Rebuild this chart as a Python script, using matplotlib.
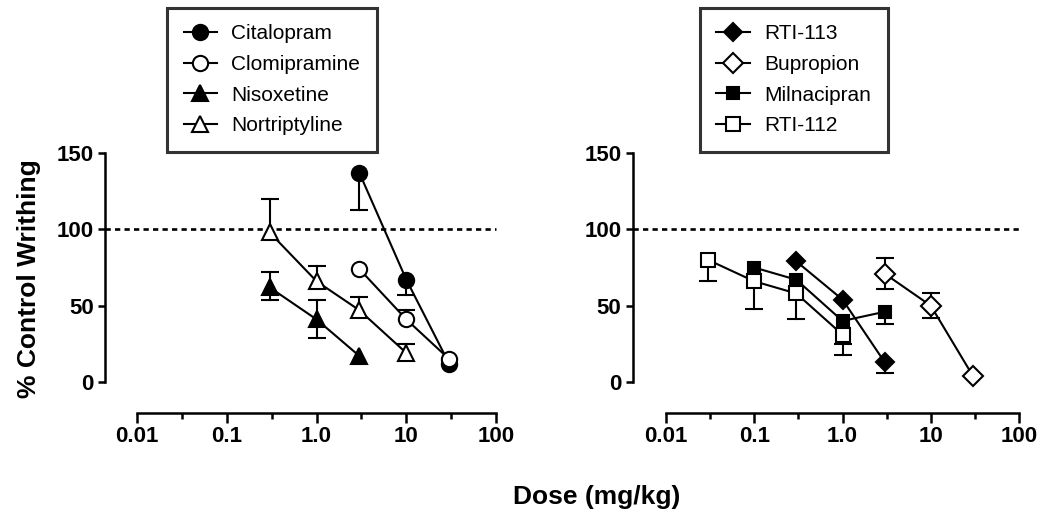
import numpy as np
import matplotlib.pyplot as plt

plt.rcParams['font.family'] = ['Liberation Sans', 'DejaVu Sans']

# left panel: dose (mg/kg), % control writhing, lower / upper error
CIT_DOSE = [3, 10, 30]
CIT_MEAN = [137, 67, 12]
CIT_LO = [24, 10, 0]
CIT_HI = [0, 0, 0]

CLO_DOSE = [3, 10, 30]
CLO_MEAN = [74, 41, 15]
CLO_LO = [0, 0, 0]
CLO_HI = [0, 6, 0]

NIS_DOSE = [0.3, 1, 3]
NIS_MEAN = [62, 41, 17]
NIS_LO = [8, 12, 0]
NIS_HI = [10, 13, 0]

NOR_DOSE = [0.3, 1, 3, 10]
NOR_MEAN = [98, 66, 47, 19]
NOR_LO = [0, 0, 0, 0]
NOR_HI = [22, 10, 9, 6]

# right panel
R113_DOSE = [0.3, 1, 3]
R113_MEAN = [79, 54, 13]
R113_LO = [0, 0, 7]
R113_HI = [0, 0, 0]

BUP_DOSE = [3, 10, 30]
BUP_MEAN = [71, 50, 4]
BUP_LO = [10, 8, 0]
BUP_HI = [10, 8, 0]

MIL_DOSE = [0.1, 0.3, 1, 3]
MIL_MEAN = [75, 67, 40, 46]
MIL_LO = [0, 0, 15, 8]
MIL_HI = [0, 0, 0, 0]

R112_DOSE = [0.03, 0.1, 0.3, 1]
R112_MEAN = [80, 66, 58, 31]
R112_LO = [14, 18, 17, 13]
R112_HI = [0, 0, 0, 0]

X_TICKS = [0.01, 0.1, 1, 10, 100]
X_TICKLABELS = ['0.01', '0.1', '1.0', '10', '100']
Y_TICKS = [0, 50, 100, 150]

LW = 1.5
MS = 11
FIG_W, FIG_H, DPI = 10.5, 5.19, 100


def draw_series(ax, dose, mean, lo, hi, marker, filled, label, ms=MS):
    # one-sided error bars, drawn as stem + cap
    for x, y, l, h in zip(dose, mean, lo, hi):
        for d in (-l, h):
            if d != 0:
                ax.plot([x, x], [y, y + d], color='black', lw=LW, zorder=2, clip_on=False)
                ax.plot([x], [y + d], marker='_', ms=13, mew=LW, color='black',
                        zorder=2, clip_on=False)
    face = 'black' if filled else 'white'
    line, = ax.plot(dose, mean, color='black', lw=LW, marker=marker, ms=ms,
                    mfc=face, mec='black', mew=LW, label=label, zorder=3, clip_on=False)
    return line


def style_axis(ax, left_offset):
    ax.set_xscale('log')
    ax.set_xlim(0.01, 100)
    ax.set_ylim(0, 150)
    ax.spines['top'].set_visible(False)
    ax.spines['right'].set_visible(False)
    ax.spines['left'].set_position(('outward', left_offset))
    ax.spines['bottom'].set_position(('outward', 22))
    for s in ('left', 'bottom'):
        ax.spines[s].set_linewidth(1.8)
    ax.set_xticks(X_TICKS)
    ax.set_xticklabels(X_TICKLABELS)
    ax.set_xticks([10 ** (k + 0.5) for k in range(-2, 2)], minor=True)
    ax.set_yticks(Y_TICKS)
    ax.tick_params(axis='both', which='major', width=1.8, labelsize=16, pad=3)
    ax.tick_params(axis='x', which='major', length=7)
    ax.tick_params(axis='x', which='minor', length=4.5, width=1.8, labelbottom=False)
    ax.tick_params(axis='y', length=5)
    for lab in ax.get_xticklabels() + ax.get_yticklabels():
        lab.set_fontweight('bold')
    # dotted control line at 100 %, starting at the y axis
    offset_px = left_offset / 72 * DPI
    width_px = ax.get_position().width * FIG_W * DPI
    ax.axhline(100, xmin=-offset_px / width_px, xmax=1.0, color='black', lw=1.9,
               ls=(0, (2.0, 1.6)), clip_on=False, zorder=1)


fig = plt.figure(figsize=(FIG_W, FIG_H), dpi=DPI)
ax1 = fig.add_axes([0.1305, 0.264, 0.342, 0.441])
ax2 = fig.add_axes([0.6343, 0.264, 0.3362, 0.441])

style_axis(ax1, 23)
style_axis(ax2, 24)

h1 = [
    draw_series(ax1, CIT_DOSE, CIT_MEAN, CIT_LO, CIT_HI, 'o', True, 'Citalopram'),
    draw_series(ax1, CLO_DOSE, CLO_MEAN, CLO_LO, CLO_HI, 'o', False, 'Clomipramine'),
    draw_series(ax1, NIS_DOSE, NIS_MEAN, NIS_LO, NIS_HI, '^', True, 'Nisoxetine', ms=11.5),
    draw_series(ax1, NOR_DOSE, NOR_MEAN, NOR_LO, NOR_HI, '^', False, 'Nortriptyline', ms=11.5),
]
h2 = [
    draw_series(ax2, R113_DOSE, R113_MEAN, R113_LO, R113_HI, 'D', True, 'RTI-113', ms=9),
    draw_series(ax2, BUP_DOSE, BUP_MEAN, BUP_LO, BUP_HI, 'D', False, 'Bupropion', ms=10.5),
    draw_series(ax2, MIL_DOSE, MIL_MEAN, MIL_LO, MIL_HI, 's', True, 'Milnacipran', ms=9),
    draw_series(ax2, R112_DOSE, R112_MEAN, R112_LO, R112_HI, 's', False, 'RTI-112', ms=10.5),
]

for handles, cx in ((h1, 0.259), (h2, 0.756)):
    leg = fig.legend(handles=handles, loc='upper center', bbox_to_anchor=(cx, 0.985),
                     fontsize=15, frameon=True, fancybox=False, edgecolor='black',
                     handlelength=1.6, handletextpad=0.7, labelspacing=0.56,
                     borderpad=0.8, borderaxespad=0)
    leg.get_frame().set_linewidth(2.2)

fig.text(0.028, 0.464, '% Control Writhing', rotation=90, ha='center', va='center',
         fontsize=19, fontweight='bold')
fig.text(0.568, 0.042, 'Dose (mg/kg)', ha='center', va='center',
         fontsize=19, fontweight='bold')

fig.savefig('out.png', dpi=DPI)
